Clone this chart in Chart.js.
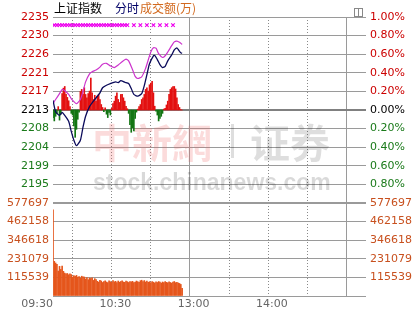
<!DOCTYPE html>
<html>
<head>
<meta charset="utf-8">
<script src="https://cdn.jsdelivr.net/npm/chart.js@4.4.0/dist/chart.umd.min.js"></script>
<style>
  html, body { margin: 0; padding: 0; background: #fff; }
</style>
</head>
<body>
<canvas id="fenshi" width="418" height="312"></canvas>
<script>
// 上证指数 分时, x = minutes after 09:30 (lunch removed, 240 = 15:00)
var prevClose = 2212.9;

var navyTimes = [0, 2, 5, 7, 9, 12, 14, 16, 18, 21, 23, 25, 28, 32, 36, 38, 41, 44, 48, 50, 52, 55,
  58, 60, 62, 65, 68, 70, 72, 74, 77, 78, 80, 82, 84, 86, 88, 91, 93, 95, 96, 98, 99];
var navyPrices = [2215.2, 2212.5, 2211.6, 2212.3, 2211.6, 2210.2, 2207.8, 2205.7, 2204.4, 2205.7, 2208.8,
  2211.4, 2213.7, 2215.4, 2217.0, 2218.2, 2218.8, 2219.2, 2219.6, 2219.4, 2219.9, 2219.5,
  2219.2, 2218.0, 2216.6, 2216.2, 2216.8, 2218.7, 2221.3, 2223.9, 2225.8, 2225.9, 2224.9,
  2223.7, 2223.0, 2223.3, 2224.6, 2226.0, 2227.2, 2227.7, 2227.3, 2226.5, 2226.4];

var pinkTimes = [0, 2, 5, 7, 9, 12, 14, 16, 18, 21, 23, 25, 28, 30, 33, 36, 38, 41, 44, 47, 50,
  53, 56, 58, 61, 63, 65, 68, 71, 73, 75, 77, 79, 81, 84, 86, 88, 91, 93, 95, 97, 99];
var pinkPrices = [2214.4, 2215.4, 2216.8, 2217.8, 2217.5, 2216.6, 2215.6, 2214.9, 2214.4, 2215.4, 2217.3,
  2219.6, 2221.5, 2222.0, 2222.4, 2223.1, 2223.8, 2224.0, 2223.4, 2223.0, 2223.6,
  2224.4, 2225.0, 2224.6, 2222.5, 2220.9, 2220.4, 2220.8, 2222.8, 2224.8, 2226.7,
  2227.7, 2227.6, 2226.3, 2225.4, 2225.8, 2226.7, 2228.2, 2229.1, 2229.3, 2229.0, 2228.5];

// red / green bars around the previous close, one per minute
var powerBars = [-1.8, -2.6, -1.5, -0.8, 0.8, -2.4, -1.0,
  3.9, 5.2, 5.6, 3.7, 3.0, 2.2, 0.8,
  -0.8, -1.2, -3.8, -6.5, -4.6, -2.2, -0.5,
  4.4, 4.9, 3.7, 5.3, 3.7, 2.9, 3.9, 4.5, 7.6, 4.1, 2.5, 3.5, 2.1, 3.3, 3.7, 2.5, 1.3, 0.6,
  -0.4, 0.5, -1.0, -1.8, -0.6, -1.2, 0.4,
  1.5, 2.1, 3.3, 4.1, 2.5, 1.8, 3.7, 3.7, 2.9, 2.1, 0.9, 0.3,
  -0.8, -3.5, -5.3, -4.2, -5.0, -2.0, -0.5,
  0.2, 0.8, 1.3, 2.5, 2.9, 3.7, 4.9, 5.3, 4.5, 6.0, 6.4, 6.8, 4.1, 0.9,
  -0.3, -1.2, -2.6, -2.0, -1.5, -0.8, 0.2,
  0.4, 1.2, 2.1, 3.7, 4.9, 5.3, 5.6, 5.6, 5.0, 2.9, 1.3, 0.6, 0.1, 0];

// 成交额(万), one per minute
var volumes = [536000, 215000, 205000, 196000, 155000, 184000, 165000, 186000, 153000, 142000,
  138000, 140000, 132000, 138000, 133000, 118000, 127000, 122000, 128000, 117000,
  121000, 111000, 123000, 119000, 118000, 106000, 114000, 101000, 112000, 109000,
  113000, 97000, 108000, 102000, 91000, 86000, 97000, 93000, 84000, 90000,
  95000, 87000, 83000, 94000, 89000, 85000, 96000, 88000, 91000, 84000,
  93000, 86000, 90000, 95000, 87000, 85000, 92000, 89000, 84000, 90000,
  88000, 91000, 84000, 86000, 93000, 89000, 85000, 95000, 98000, 90000,
  96000, 87000, 92000, 85000, 89000, 83000, 90000, 86000, 81000, 88000,
  84000, 90000, 86000, 80000, 87000, 83000, 89000, 85000, 82000, 88000,
  84000, 80000, 86000, 90000, 83000, 85000, 81000, 78000, 72000, 48000];

var markTimes = [1, 3, 5, 7, 9, 11, 13, 15, 17, 19, 21, 23, 25, 27, 29, 31, 33, 35, 37, 39, 41,
  43, 45, 47, 49, 51, 53, 55, 57, 62, 67, 72, 77, 82, 87, 92];
var markLevel = 2233.1;

var priceLabels = ['', '2195', '2199', '2204', '2208', '2213', '2217', '2221', '2226', '2230', '2235'];
var pctLabels = ['', '0.80%', '0.60%', '0.40%', '0.20%', '0.00%', '0.20%', '0.40%', '0.60%', '0.80%', '1.00%'];
var volMax = 577697;
var volLabels = ['', '115539', '231079', '346618', '462158', '577697'];
var timeTicks = [0, 30, 60, 90, 120, 150, 180, 210, 240];
var timeLabels = ['09:30', '', '10:30', '', '13:00', '', '14:00', '', ''];

var RED = '#cc0000', GREEN = '#1a7a1a', VOL = '#c8501e', GRID = '#9a9a9a';

Chart.defaults.font.family = "'DejaVu Sans', sans-serif";
Chart.defaults.font.size = 11;

function upDownColor(ctx) {
  if (ctx.index === 5) return '#000';
  return ctx.index > 5 ? RED : GREEN;
}

function evenTicks(lo, hi, n) {
  return function (s) {
    var t = [];
    for (var i = 0; i <= n; i++) t.push({ value: lo + (hi - lo) * i / n });
    s.ticks = t;
  };
}

var pMin = prevClose * 0.99, pMax = prevClose * 1.01;

var decor = {
  id: 'decor',
  beforeDatasetsDraw: function (chart) {
    var c = chart.ctx;
    c.save();
    c.textBaseline = 'alphabetic';
    c.font = "bold 40px 'Noto Sans CJK TC'";
    c.fillStyle = 'rgba(235, 90, 90, 0.22)';
    c.fillText('中新網', 92, 158);
    c.fillStyle = 'rgba(0, 0, 0, 0.13)';
    c.fillRect(231, 124, 3, 34);
    c.fillText('证券', 250, 158);
    c.font = "bold 23px 'Liberation Sans'";
    c.fillStyle = 'rgba(0, 0, 0, 0.15)';
    c.fillText('stock.chinanews.com', 93, 190);
    c.restore();
  },
  afterDraw: function (chart) {
    var c = chart.ctx;
    c.save();
    c.textBaseline = 'alphabetic';
    c.font = "12px 'Noto Sans CJK SC'";
    c.fillStyle = '#000';
    c.fillText('上证指数', 54, 13);
    c.fillStyle = '#000066';
    c.fillText('分时', 115, 13);
    c.fillStyle = '#d2691e';
    c.fillText('成交额(万)', 140, 13);
    c.strokeStyle = '#888';
    c.lineWidth = 1;
    c.strokeRect(354.5, 8.5, 8, 8);
    c.beginPath();
    c.moveTo(358.5, 8.5);
    c.lineTo(358.5, 16.5);
    c.stroke();
    c.restore();
  }
};

new Chart(document.getElementById('fenshi'), {
  type: 'bar',
  data: {
    datasets: [{
      type: 'line',
      data: navyTimes.map(function (t, i) { return { x: t, y: navyPrices[i] }; }),
      yAxisID: 'y',
      borderColor: '#0a0a5a',
      borderWidth: 1.3,
      pointRadius: 0,
      tension: 0.2,
      order: 0
    }, {
      type: 'line',
      data: pinkTimes.map(function (t, i) { return { x: t, y: pinkPrices[i] }; }),
      yAxisID: 'y',
      borderColor: '#cc33cc',
      borderWidth: 1.2,
      pointRadius: 0,
      tension: 0.2,
      order: 1
    }, {
      type: 'line',
      data: markTimes.map(function (t) { return { x: t, y: markLevel }; }),
      yAxisID: 'y',
      showLine: false,
      pointStyle: 'crossRot',
      pointRadius: 2.5,
      pointBorderWidth: 1.2,
      borderColor: '#ee00ee',
      order: 1
    }, {
      type: 'bar',
      data: powerBars.map(function (v, i) { return { x: i, y: [prevClose, prevClose + v] }; }),
      yAxisID: 'y',
      grouped: false,
      barThickness: 1,
      backgroundColor: function (ctx) { return powerBars[ctx.dataIndex] >= 0 ? '#e31010' : '#137513'; },
      order: 2
    }, {
      type: 'bar',
      data: volumes.map(function (v, i) { return { x: i, y: v }; }),
      yAxisID: 'yv',
      grouped: false,
      barThickness: 1,
      backgroundColor: '#e5561c',
      order: 2
    }]
  },
  options: {
    responsive: false,
    animation: false,
    events: [],
    layout: { padding: { top: 17, left: 0, right: 0, bottom: 0 } },
    plugins: { legend: { display: false }, tooltip: { enabled: false } },
    scales: {
      x: {
        type: 'linear',
        min: 0,
        max: 240,
        offset: false,
        afterBuildTicks: function (s) { s.ticks = timeTicks.map(function (v) { return { value: v }; }); },
        afterFit: function (s) { s.height = 16; },
        grid: {
          drawTicks: false,
          color: function (ctx) { return ctx.index % 4 === 0 ? GRID : '#8a8a8a'; },
          lineWidth: 1
        },
        border: {
          display: false,
          dash: function (ctx) { return ctx.index % 4 === 0 ? [] : [1, 2]; }
        },
        ticks: {
          align: 'end',
          padding: 2,
          color: '#666',
          maxRotation: 0,
          autoSkip: false,
          callback: function (v, i) { return timeLabels[i]; }
        }
      },
      y: {
        position: 'left',
        stack: 'l',
        stackWeight: 10,
        weight: 1,
        min: pMin,
        max: pMax,
        afterBuildTicks: evenTicks(pMin, pMax, 10),
        afterFit: function (s) { s.width = 53; },
        grid: {
          drawTicks: false,
          color: function (ctx) { return ctx.index === 5 ? '#808080' : GRID; },
          lineWidth: function (ctx) { return (ctx.index === 5 || ctx.index === 0) ? 2 : 1; }
        },
        border: { display: false },
        ticks: {
          padding: 4,
          autoSkip: false,
          color: upDownColor,
          callback: function (v, i) { return priceLabels[i]; }
        }
      },
      yv: {
        position: 'left',
        stack: 'l',
        stackWeight: 5,
        weight: 0,
        min: 0,
        max: volMax,
        afterBuildTicks: evenTicks(0, volMax, 5),
        afterFit: function (s) { s.width = 53; },
        grid: {
          drawTicks: false,
          color: GRID,
          lineWidth: function (ctx) { return ctx.index === 5 ? 2 : 1; }
        },
        border: { display: false },
        ticks: {
          padding: 4,
          autoSkip: false,
          color: VOL,
          callback: function (v, i) { return volLabels[i]; }
        }
      },
      yp: {
        position: 'right',
        stack: 'r',
        stackWeight: 10,
        weight: 0,
        min: -1,
        max: 1,
        afterBuildTicks: evenTicks(-1, 1, 10),
        afterFit: function (s) { s.width = 52; },
        grid: { display: false, drawTicks: false },
        border: { display: false },
        ticks: {
          padding: 4,
          autoSkip: false,
          color: upDownColor,
          callback: function (v, i) { return pctLabels[i]; }
        }
      },
      yr: {
        position: 'right',
        stack: 'r',
        stackWeight: 5,
        weight: 1,
        min: 0,
        max: volMax,
        afterBuildTicks: evenTicks(0, volMax, 5),
        afterFit: function (s) { s.width = 52; },
        grid: { display: false, drawTicks: false },
        border: { display: false },
        ticks: {
          padding: 4,
          autoSkip: false,
          color: VOL,
          callback: function (v, i) { return volLabels[i]; }
        }
      }
    }
  },
  plugins: [decor]
});
</script>
</body>
</html>
